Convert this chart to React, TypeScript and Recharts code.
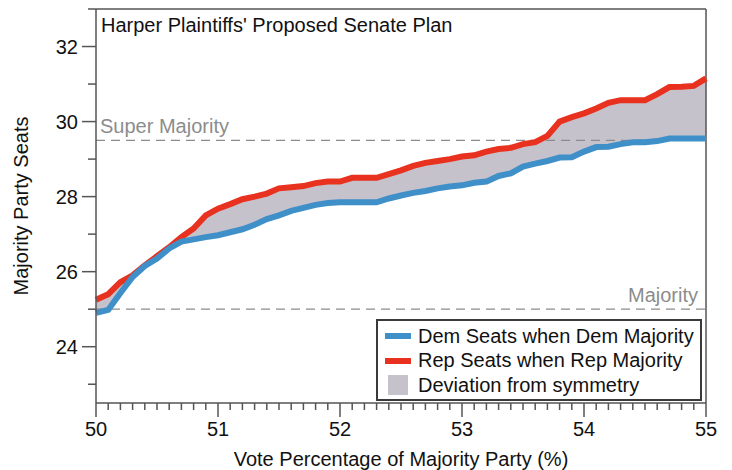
import { ComposedChart, Area, Line, XAxis, YAxis, ReferenceLine } from 'recharts'

// vote share of the majority party (%)
const voteShare = [
  50.0, 50.1, 50.2, 50.3, 50.4, 50.5, 50.6, 50.7, 50.8, 50.9,
  51.0, 51.1, 51.2, 51.3, 51.4, 51.5, 51.6, 51.7, 51.8, 51.9,
  52.0, 52.1, 52.2, 52.3, 52.4, 52.5, 52.6, 52.7, 52.8, 52.9,
  53.0, 53.1, 53.2, 53.3, 53.4, 53.5, 53.6, 53.7, 53.8, 53.9,
  54.0, 54.1, 54.2, 54.3, 54.4, 54.5, 54.6, 54.7, 54.8, 54.9,
  55.0,
]

const demSeats = [
  24.9, 24.98, 25.43, 25.86, 26.15, 26.35, 26.62, 26.8, 26.86, 26.92,
  26.97, 27.05, 27.13, 27.25, 27.4, 27.5, 27.62, 27.7, 27.78, 27.83,
  27.85, 27.85, 27.85, 27.85, 27.95, 28.03, 28.1, 28.15, 28.22, 28.27,
  28.3, 28.37, 28.4, 28.55, 28.62, 28.8, 28.88, 28.95, 29.04, 29.05,
  29.2, 29.32, 29.33, 29.4, 29.45, 29.45, 29.48, 29.55, 29.55, 29.55,
  29.55,
]

const repSeats = [
  25.25, 25.4, 25.72, 25.9, 26.17, 26.41, 26.65, 26.92, 27.15, 27.5,
  27.68, 27.8, 27.93, 28.0, 28.08, 28.22, 28.25, 28.28, 28.36, 28.4,
  28.4, 28.5, 28.5, 28.5, 28.6, 28.7, 28.82, 28.9, 28.95, 29.0,
  29.07, 29.1, 29.2, 29.27, 29.3, 29.4, 29.45, 29.62, 30.0, 30.12,
  30.22, 30.35, 30.5, 30.57, 30.57, 30.57, 30.73, 30.92, 30.93, 30.95,
  31.15,
]

const seatTicks = [23, 24, 25, 26, 27, 28, 29, 30, 31, 32, 33]
const voteMajorTicks = [50, 51, 52, 53, 54, 55]
const voteTicks = Array.from({ length: 51 }, (_, i) => Math.round((50 + i * 0.1) * 10) / 10)

const SUPER_MAJORITY = 29.5
const MAJORITY = 25

const BLUE = '#3f8fc9'
const RED = '#e8321f'
const BAND = '#c6c2cc'
const AXIS = '#555555'
const GUIDE = '#8c8c8c'
const FONT = '"Liberation Sans", Arial, Helvetica, sans-serif'

const data = voteShare.map((v, i) => ({
  vote: v,
  dem: demSeats[i],
  rep: repSeats[i],
  band: [demSeats[i], repSeats[i]],
}))

const SeatTick = (props: any) => {
  const { x, y, payload } = props
  const v = payload.value
  const major = v % 2 === 0
  return (
    <g>
      <line x1={x - (major ? 14 : 8)} x2={x} y1={y} y2={y} stroke={AXIS} strokeWidth={1.5} />
      {major && (
        <text x={x - 18} y={y} dy="0.36em" textAnchor="end" fontSize={20} fontFamily={FONT} fill="#111">
          {v}
        </text>
      )}
    </g>
  )
}

const VoteTick = (props: any) => {
  const { x, y, payload } = props
  const v = payload.value
  const major = voteMajorTicks.includes(v)
  return (
    <g>
      <line x1={x} x2={x} y1={y} y2={y + (major ? 14 : 7)} stroke={AXIS} strokeWidth={1.5} />
      {major && (
        <text x={x} y={y + 33} textAnchor="middle" fontSize={20} fontFamily={FONT} fill="#111">
          {v}
        </text>
      )}
    </g>
  )
}

// text sitting just above a dashed guide line
const guideLabel = (text: string, align: 'left' | 'right') => (props: any) => {
  const { viewBox } = props
  const x = align === 'left' ? viewBox.x + 4 : viewBox.x + viewBox.width - 8
  return (
    <text
      x={x}
      y={viewBox.y - 7}
      textAnchor={align === 'left' ? 'start' : 'end'}
      fontSize={20}
      fontFamily={FONT}
      fill={GUIDE}
    >
      {text}
    </text>
  )
}

const legendItems = [
  { label: 'Dem Seats when Dem Majority', kind: 'line', color: BLUE },
  { label: 'Rep Seats when Rep Majority', kind: 'line', color: RED },
  { label: 'Deviation from symmetry', kind: 'box', color: BAND },
]

export default function App() {
  return (
    <div style={{ position: 'absolute', left: 0, top: 0, width: 732, height: 470, background: '#fff', fontFamily: FONT }}>
      <ComposedChart width={732} height={470} data={data} margin={{ top: 9, right: 26, bottom: 0, left: 0 }}>
        <XAxis
          dataKey="vote"
          type="number"
          domain={[50, 55]}
          ticks={voteTicks}
          interval={0}
          tick={<VoteTick />}
          tickLine={false}
          tickSize={0}
          tickMargin={0}
          height={67}
          axisLine={{ stroke: AXIS, strokeWidth: 1.5 }}
          label={{
            value: 'Vote Percentage of Majority Party (%)',
            position: 'insideBottom',
            offset: 4,
            fontSize: 20,
            fontFamily: FONT,
            fill: '#111',
          }}
        />
        <YAxis
          type="number"
          domain={[22.5, 33]}
          ticks={seatTicks}
          interval={0}
          tick={<SeatTick />}
          tickLine={false}
          tickSize={0}
          tickMargin={0}
          width={96}
          axisLine={{ stroke: AXIS, strokeWidth: 1.5 }}
          label={{
            value: 'Majority Party Seats',
            angle: -90,
            position: 'insideLeft',
            offset: 21,
            style: { textAnchor: 'middle' },
            fontSize: 20,
            fontFamily: FONT,
            fill: '#111',
          }}
        />
        <ReferenceLine y={33} stroke={AXIS} strokeWidth={1.5} />
        <ReferenceLine x={55} stroke={AXIS} strokeWidth={1.5} />
        <ReferenceLine
          y={SUPER_MAJORITY}
          stroke={GUIDE}
          strokeWidth={1.3}
          strokeDasharray="9 6"
          label={guideLabel('Super Majority', 'left')}
        />
        <ReferenceLine
          y={MAJORITY}
          stroke={GUIDE}
          strokeWidth={1.3}
          strokeDasharray="9 6"
          label={guideLabel('Majority', 'right')}
        />
        <Area dataKey="band" type="linear" fill={BAND} fillOpacity={1} stroke="none" isAnimationActive={false} />
        <Line dataKey="rep" type="linear" stroke={RED} strokeWidth={6} dot={false} isAnimationActive={false} />
        <Line dataKey="dem" type="linear" stroke={BLUE} strokeWidth={6} dot={false} isAnimationActive={false} />
      </ComposedChart>

      <div
        style={{
          position: 'absolute',
          left: 101,
          top: 13,
          fontSize: 20,
          color: '#111',
          lineHeight: '24px',
          whiteSpace: 'nowrap',
        }}
      >
        Harper Plaintiffs' Proposed Senate Plan
      </div>

      <div
        style={{
          position: 'absolute',
          left: 376,
          top: 319,
          width: 322,
          height: 75,
          border: '2px solid #3a3a3a',
          background: '#fff',
          paddingTop: 3,
          boxSizing: 'content-box',
        }}
      >
        {legendItems.map((item) => (
          <div key={item.label} style={{ display: 'flex', alignItems: 'center', height: 24.5, fontSize: 20, color: '#111', whiteSpace: 'nowrap' }}>
            <div style={{ width: 40, display: 'flex', justifyContent: 'center' }}>
              {item.kind === 'line' ? (
                <div style={{ width: 26, height: 6, background: item.color }} />
              ) : (
                <div style={{ width: 20, height: 20, background: item.color }} />
              )}
            </div>
            <span>{item.label}</span>
          </div>
        ))}
      </div>
    </div>
  )
}
